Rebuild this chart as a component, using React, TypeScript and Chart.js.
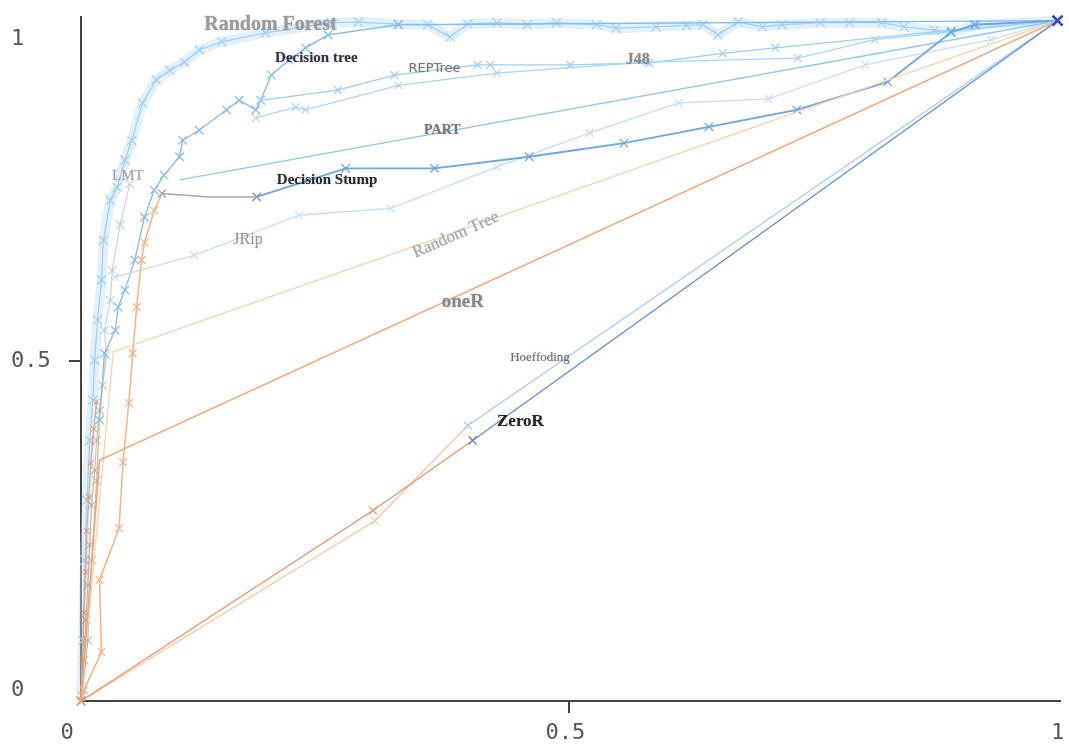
import React, { useEffect, useRef } from "react";
import { Chart, registerables } from "chart.js";

Chart.register(...registerables);

// ---- tick labels ----
const xTickValues = [0, 0.5, 1];
const xTickLabels = ["0", "0.5", "1"];
const yTickValues = [0, 0.5, 1];
const yTickLabels = ["0", "0.5", "1"];

// ---- series (false positive rate / true positive rate) ----
const rfX = [0, 0.002, 0.004, 0.006, 0.009, 0.012, 0.014, 0.017, 0.021, 0.023, 0.03, 0.037, 0.045, 0.052, 0.063, 0.077, 0.091, 0.106, 0.121, 0.144, 0.189, 0.256, 0.284, 0.325, 0.355, 0.378, 0.396, 0.426, 0.457, 0.487, 0.528, 0.548, 0.589, 0.62, 0.637, 0.652, 0.673, 0.698, 0.718, 0.757, 0.787, 0.82, 0.843, 0.874, 0.891, 0.917, 1];
const rfY = [0, 0.089, 0.207, 0.295, 0.383, 0.442, 0.501, 0.56, 0.619, 0.677, 0.736, 0.755, 0.795, 0.824, 0.879, 0.913, 0.927, 0.939, 0.957, 0.969, 0.982, 0.997, 0.998, 0.995, 0.994, 0.976, 0.995, 0.997, 0.994, 0.997, 0.994, 0.989, 0.991, 0.993, 0.994, 0.979, 0.998, 0.991, 0.994, 0.997, 0.997, 0.997, 0.991, 0.986, 0.983, 0.994, 1];

const lmtX = [0, 0.001, 0.003, 0.005, 0.007, 0.009, 0.011, 0.014, 0.016, 0.019, 0.022, 0.026, 0.024, 0.03, 0.032, 0.04, 0.05];
const lmtY = [0, 0.008, 0.06, 0.119, 0.17, 0.229, 0.288, 0.339, 0.383, 0.427, 0.464, 0.508, 0.545, 0.589, 0.633, 0.7, 0.76];

const lowX = [0, 0.002, 0.003, 0.005, 0.006, 0.008, 0.01, 0.013, 0.016];
const lowY = [0, 0.06, 0.13, 0.19, 0.25, 0.3, 0.35, 0.4, 0.44];

const dtX = [0, 0.007, 0.011, 0.016, 0.019, 0.024, 0.035, 0.038, 0.045, 0.055, 0.065, 0.075, 0.085, 0.101, 0.104, 0.121, 0.149, 0.162, 0.179, 0.184, 0.195, 0.213, 0.23, 0.253, 0.325, 1];
const dtY = [0, 0.089, 0.207, 0.324, 0.413, 0.511, 0.545, 0.579, 0.604, 0.648, 0.711, 0.751, 0.773, 0.8, 0.824, 0.839, 0.869, 0.883, 0.869, 0.883, 0.92, 0.942, 0.96, 0.979, 0.994, 1];

const dsLowX = [0, 0.003, 0.021, 0.019, 0.039, 0.043, 0.049, 0.053, 0.057, 0.062, 0.065, 0.075, 0.083];
const dsLowY = [0, 0.016, 0.072, 0.178, 0.254, 0.351, 0.438, 0.511, 0.579, 0.648, 0.674, 0.721, 0.746];
const dsMidX = [0.083, 0.131, 0.18];
const dsMidY = [0.746, 0.741, 0.741];
const dsHighX = [0.18, 0.271, 0.362, 0.459, 0.556, 0.643, 0.733, 0.826, 0.891, 0.915, 1];
const dsHighY = [0.741, 0.783, 0.783, 0.8, 0.82, 0.844, 0.869, 0.91, 0.983, 0.994, 1];

const jripX = [0.035, 0.116, 0.223, 0.317, 0.426, 0.521, 0.612, 0.704, 0.803, 0.932, 1];
const jripY = [0.623, 0.655, 0.714, 0.724, 0.785, 0.835, 0.879, 0.885, 0.935, 0.972, 1];

const partX = [0.101, 1];
const partY = [0.766, 1];

const j48X = [0.179, 0.22, 0.23, 0.325, 0.426, 0.579, 0.734, 0.813, 1];
const j48Y = [0.857, 0.873, 0.869, 0.905, 0.923, 0.939, 0.945, 0.972, 1];

const repX = [0.184, 0.263, 0.321, 0.406, 0.419, 0.501, 0.582, 0.657, 0.711, 0.891, 1];
const repY = [0.883, 0.898, 0.92, 0.935, 0.935, 0.935, 0.938, 0.952, 0.96, 0.986, 1];

const rtX = [0, 0.033, 1];
const rtY = [0, 0.513, 1];

const oneRX = [0, 0.019, 1];
const oneRY = [0, 0.354, 1];

const zrLowX = [0, 0.299, 0.401];
const zrLowY = [0, 0.28, 0.383];
const zrHighX = [0.401, 1];
const zrHighY = [0.383, 1];

const hfLowX = [0, 0.301, 0.396];
const hfLowY = [0, 0.265, 0.405];
const hfHighX = [0.396, 1];
const hfHighY = [0.405, 1];

// ---- in-plot labels ----
const labelTexts = ["Random Forest", "Decision tree", "REPTree", "J48", "PART", "Decision Stump", "LMT", "JRip", "Random Tree", "oneR", "Hoeffoding", "ZeroR"];
const labelX = [0.194, 0.241, 0.362, 0.57, 0.37, 0.252, 0.048, 0.171, 0.384, 0.391, 0.47, 0.45];
const labelY = [0.994, 0.945, 0.929, 0.942, 0.838, 0.766, 0.772, 0.678, 0.685, 0.586, 0.505, 0.41];
const labelFonts = [
  'bold 20px "Liberation Serif"',
  'bold 15px "Liberation Serif"',
  '13px "DejaVu Sans"',
  'bold 16px "Liberation Serif"',
  'bold 14px "Liberation Serif"',
  'bold 15px "Liberation Serif"',
  '15px "Liberation Serif"',
  '16px "Liberation Serif"',
  '17px "Liberation Serif"',
  'bold 19px "Liberation Serif"',
  '13px "Liberation Serif"',
  'bold 17px "Liberation Serif"',
];
const labelColors = ["#9a9a9a", "#2e3245", "#7a7a7a", "#8a8a8a", "#777777", "#2a2a33", "#a8a8a8", "#9a9aa6", "#a6a6aa", "#888888", "#6a6a72", "#222222"];
const labelAngles = [0, 0, 0, 0, 0, 0, 0, 0, -24, 0, 0, 0];

const xLabelOffsets = [-14, -4, 0];
const yLabelOffsets = [-11, 0, 19];

function pts(xs: number[], ys: number[]) {
  return xs.map((x, i) => ({ x, y: ys[i] }));
}

function line(label: string, xs: number[], ys: number[], color: any, opts: any = {}) {
  return {
    label,
    data: pts(xs, ys),
    showLine: true,
    borderColor: color,
    backgroundColor: color,
    borderWidth: 1.3,
    pointStyle: "crossRot",
    pointRadius: 5.5,
    pointBorderColor: color,
    pointBorderWidth: 1.2,
    pointHoverRadius: 0,
    tension: 0,
    clip: false,
    ...opts,
  };
}

const textPlugin = {
  id: "textPlugin",
  afterDatasetsDraw(chart: any) {
    const { ctx, scales } = chart;
    const xs = scales.x;
    const ys = scales.y;
    ctx.save();
    for (let i = 0; i < labelTexts.length; i++) {
      const px = xs.getPixelForValue(labelX[i]);
      const py = ys.getPixelForValue(labelY[i]);
      ctx.save();
      ctx.translate(px, py);
      ctx.rotate((labelAngles[i] * Math.PI) / 180);
      ctx.font = labelFonts[i];
      ctx.fillStyle = labelColors[i];
      ctx.textAlign = "center";
      ctx.textBaseline = "middle";
      ctx.shadowColor = "rgba(0,0,0,0.25)";
      ctx.shadowBlur = 2;
      ctx.fillText(labelTexts[i], 0, 0);
      ctx.restore();
    }
    ctx.font = '22px "DejaVu Sans Mono"';
    ctx.fillStyle = "#555555";
    ctx.textBaseline = "middle";
    ctx.textAlign = "center";
    for (let i = 0; i < xTickLabels.length; i++) {
      const px = xs.getPixelForValue(xTickValues[i]) + xLabelOffsets[i];
      ctx.fillText(xTickLabels[i], px, xs.bottom - 13);
    }
    ctx.textAlign = "left";
    for (let i = 0; i < yTickLabels.length; i++) {
      const py = ys.getPixelForValue(yTickValues[i]) + yLabelOffsets[i];
      ctx.fillText(yTickLabels[i], 11, py);
    }
    ctx.restore();
  },
};

export default function App() {
  const ref = useRef<HTMLCanvasElement>(null);
  useEffect(() => {
    if (!ref.current) return;
    const lastZr = zrHighX.length - 1;
    const datasets: any[] = [
      line("ZeroR high", zrHighX, zrHighY, "#5a8ee6", {
        pointRadius: (c: any) => (c.dataIndex === lastZr ? 7 : 5.5),
        pointBorderColor: (c: any) => (c.dataIndex === lastZr ? "#2c46c8" : "#5a8ee6"),
        pointBorderWidth: (c: any) => (c.dataIndex === lastZr ? 2.5 : 1.2),
        order: 0,
      }),
      line("ZeroR low", zrLowX, zrLowY, "#f29262", { order: 1 }),
      line("Hoeffding high", hfHighX, hfHighY, "#9fd0f8", { order: 2, pointRadius: [5.5, 0] }),
      line("Hoeffding low", hfLowX, hfLowY, "#fcc79a", { order: 3 }),
      line("oneR", oneRX, oneRY, "#f6a26a", { order: 4, pointRadius: 0, borderWidth: 1.5 }),
      line("Random Tree", rtX, rtY, "#fdd2a8", { order: 5, pointRadius: 0 }),
      line("Decision Stump high", dsHighX, dsHighY, "#6aa6ea", { order: 6, borderWidth: 1.8, pointRadius: 6 }),
      line("Decision Stump mid", dsMidX, dsMidY, "#a9a99a", { order: 7, borderWidth: 1.5, pointRadius: [5.5, 0, 5.5] }),
      line("Decision Stump low", dsLowX, dsLowY, "#f9b27f", { order: 8, borderWidth: 1.5 }),
      line("JRip", jripX, jripY, "#c3e0fa", {
        order: 9,
        segment: { borderColor: (c: any) => (c.p0DataIndex === 0 ? "#d9d9d9" : "#c3e0fa") },
      }),
      line("PART", partX, partY, "#8ec9f6", { order: 10, pointRadius: 0, borderWidth: 1.5 }),
      line("J48", j48X, j48Y, "#a9d5f9", { order: 11 }),
      line("REPTree", repX, repY, "#9ccff8", { order: 12 }),
      line("Decision tree", dtX, dtY, "#80bdf0", {
        order: 13,
        pointRadius: 6,
        segment: { borderColor: (c: any) => (c.p0.parsed.y < 0.4 ? "rgba(170,150,120,0.6)" : "#80bdf0") },
        pointBorderColor: (c: any) => (c.raw && c.raw.y < 0.4 ? "rgba(170,150,120,0.6)" : "#80bdf0"),
      }),
      line("Low", lowX, lowY, "rgba(238,130,80,0.65)", { order: 14, pointRadius: 4 }),
      line("LMT", lmtX, lmtY, "rgba(160,150,125,0.55)", {
        order: 15,
        pointRadius: 6,
        segment: { borderColor: (c: any) => (c.p0.parsed.y < 0.5 ? "rgba(160,145,120,0.55)" : "rgba(150,190,215,0.55)") },
        pointBorderColor: (c: any) => (c.raw && c.raw.y < 0.5 ? "rgba(160,145,120,0.55)" : "rgba(150,190,215,0.6)"),
      }),
      line("Random Forest", rfX, rfY, "#9fd0f5", { order: 16, pointRadius: 6.5 }),
      line("Random Forest band", rfX, rfY, "rgba(190,222,246,0.45)", { order: 17, pointRadius: 0, borderWidth: 10 }),
    ];
    const chart = new Chart(ref.current, {
      type: "scatter",
      data: { datasets },
      options: {
        animation: false,
        responsive: false,
        devicePixelRatio: 1,
        layout: { padding: { top: 17, right: 3, left: 0, bottom: 0 } },
        plugins: { legend: { display: false }, tooltip: { enabled: false } },
        events: [],
        scales: {
          x: {
            type: "linear",
            min: 0,
            max: 1.002,
            afterBuildTicks: (a: any) => {
              a.ticks = [{ value: 0.5 }];
            },
            afterFit: (a: any) => {
              a.height = 45;
            },
            ticks: { display: false },
            grid: { drawOnChartArea: false, drawTicks: true, tickLength: 12, color: "#444", lineWidth: 2 },
            border: { display: true, color: "#444", width: 2 },
          },
          y: {
            type: "linear",
            min: 0,
            max: 1.0054,
            afterBuildTicks: (a: any) => {
              a.ticks = [{ value: 0.5 }];
            },
            afterFit: (a: any) => {
              a.width = 81;
            },
            ticks: { display: false },
            grid: { drawOnChartArea: false, drawTicks: true, tickLength: 12, color: "#444", lineWidth: 2 },
            border: { display: true, color: "#444", width: 2 },
          },
        },
      },
      plugins: [textPlugin],
    });
    return () => chart.destroy();
  }, []);
  return (
    <div style={{ position: "absolute", left: 0, top: 0, width: 1069, height: 746, background: "#fff" }}>
      <canvas ref={ref} width={1069} height={746} />
    </div>
  );
}
